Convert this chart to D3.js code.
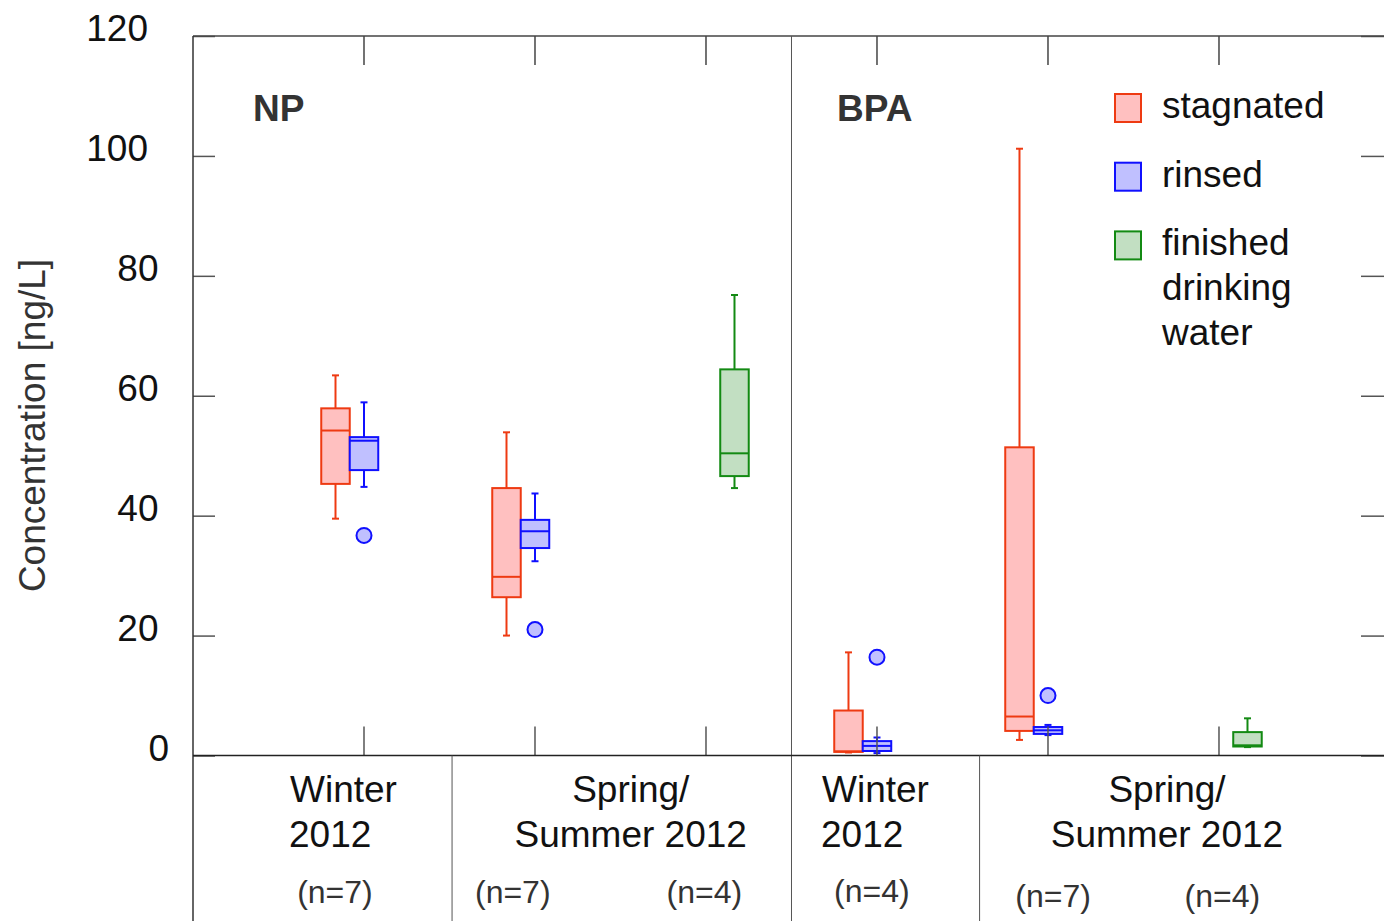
<!DOCTYPE html>
<html>
<head>
<meta charset="utf-8">
<script src="https://cdn.jsdelivr.net/npm/d3@7"></script>
<style>
  html, body { margin: 0; padding: 0; background: #fff; }
  svg { display: block; font-family: "Liberation Sans", Arial, Helvetica, sans-serif; }
</style>
</head>
<body>
<svg id="chart" width="1384" height="921"></svg>
<script>
// ---------- data ----------
const panels = ["NP", "BPA"];
const columns = ["NP Winter 2012", "NP Spring/Summer 2012", "NP Spring/Summer 2012 finished",
                 "BPA Winter 2012", "BPA Spring/Summer 2012", "BPA Spring/Summer 2012 finished"];
const seriesNames = ["stagnated", "rinsed", "finished drinking water"];
const yTicks = [0, 20, 40, 60, 80, 100, 120];

// one entry per box
const boxColumn = [0, 0, 1, 1, 2, 3, 3, 4, 4, 5];
const boxSeries = ["stagnated", "rinsed", "stagnated", "rinsed", "finished drinking water",
                   "stagnated", "rinsed", "stagnated", "rinsed", "finished drinking water"];
const whiskerLow  = [39.5, 44.8, 20.0, 32.4, 44.6, 0.5, 0.4, 2.6, 3.4, 1.4];
const quartile1   = [45.3, 47.6, 26.4, 34.6, 46.6, 0.6, 0.75, 4.1, 3.6, 1.5];
const medianVal   = [54.2, 52.5, 29.8, 37.4, 50.4, 0.7, 1.6, 6.5, 4.2, 1.7];
const quartile3   = [57.9, 53.1, 44.6, 39.3, 64.4, 7.5, 2.4, 51.4, 4.75, 3.9];
const whiskerHigh = [63.4, 58.9, 53.9, 43.7, 76.8, 17.2, 3.0, 101.2, 5.1, 6.2];

// outliers
const outlierColumn = [0, 1, 3, 4];
const outlierSeries = ["rinsed", "rinsed", "rinsed", "rinsed"];
const outlierValue  = [36.7, 21.0, 16.4, 10.0];

// category table under the axis
const seasonLabels = [["Winter", "2012"], ["Spring/", "Summer 2012"], ["Winter", "2012"], ["Spring/", "Summer 2012"]];
const nLabels = ["(n=7)", "(n=7)", "(n=4)", "(n=4)", "(n=7)", "(n=4)"];

// ---------- scales ----------
const svg = d3.select("#chart");
const plotLeft = 193, plotRight = 1384, plotTop = 36, axisY = 755.5, plotBottom = 921;

const y = d3.scaleLinear().domain([0, 120]).range([axisY, plotTop]);
const x = d3.scaleLinear().domain([-1, 5.965]).range([plotLeft, plotRight]);   // column index -> px
const slotW = x(1) - x(0);
const seriesOffset = d3.scaleOrdinal().domain(seriesNames).range([-1 / 6, 0, 1 / 6]);
const strokeColor = d3.scaleOrdinal().domain(seriesNames).range(["#ee3a12", "#1010ff", "#138a13"]);
const fillColor = d3.scaleOrdinal().domain(seriesNames).range(["#ffc0c0", "#c0c0ff", "#c2dfc2"]);
const boxW = slotW / 6;
const cx = (col, s) => x(col + seriesOffset(s));

const font = 37;

// ---------- boxes ----------
const boxes = boxColumn.map((c, i) => ({
  col: c, s: boxSeries[i], lo: whiskerLow[i], q1: quartile1[i], med: medianVal[i], q3: quartile3[i], hi: whiskerHigh[i]
}));

const gBox = svg.append("g");
boxes.forEach(b => {
  const g = gBox.append("g");
  const xc = cx(b.col, b.s);
  const col = strokeColor(b.s);
  g.append("line").attr("x1", xc).attr("x2", xc).attr("y1", y(b.hi)).attr("y2", y(b.q3))
    .attr("stroke", col).attr("stroke-width", 2);
  g.append("line").attr("x1", xc).attr("x2", xc).attr("y1", y(b.q1)).attr("y2", y(b.lo))
    .attr("stroke", col).attr("stroke-width", 2);
  [b.hi, b.lo].forEach(v => g.append("line")
    .attr("x1", xc - 3.5).attr("x2", xc + 3.5).attr("y1", y(v)).attr("y2", y(v))
    .attr("stroke", col).attr("stroke-width", 2));
  g.append("rect").attr("x", xc - boxW / 2).attr("width", boxW)
    .attr("y", y(b.q3)).attr("height", y(b.q1) - y(b.q3))
    .attr("fill", fillColor(b.s)).attr("stroke", col).attr("stroke-width", 2);
  g.append("line").attr("x1", xc - boxW / 2).attr("x2", xc + boxW / 2)
    .attr("y1", y(b.med)).attr("y2", y(b.med)).attr("stroke", col).attr("stroke-width", 2);
});

outlierValue.forEach((v, i) => {
  svg.append("circle").attr("cx", cx(outlierColumn[i], outlierSeries[i])).attr("cy", y(v)).attr("r", 7.5)
    .attr("fill", fillColor(outlierSeries[i])).attr("stroke", strokeColor(outlierSeries[i])).attr("stroke-width", 2);
});

// ---------- frame, ticks ----------
const colIdx = d3.range(columns.length);
svg.append("g").selectAll("line").data(colIdx).join("line")
  .attr("x1", d => x(d)).attr("x2", d => x(d)).attr("y1", plotTop).attr("y2", plotTop + 29)
  .attr("stroke", "#444").attr("stroke-width", 1.5);
svg.append("g").selectAll("line").data(colIdx).join("line")
  .attr("x1", d => x(d)).attr("x2", d => x(d)).attr("y1", axisY).attr("y2", axisY - 29)
  .attr("stroke", "#555").attr("stroke-width", 1.5);

const axL = svg.append("g").attr("transform", `translate(${plotLeft},0)`)
  .call(d3.axisLeft(y).tickValues(yTicks).tickSize(-22).tickFormat(""));
axL.select(".domain").remove();
axL.selectAll("line").attr("stroke", "#555").attr("stroke-width", 1.5);
const axR = svg.append("g").attr("transform", `translate(${plotRight},0)`)
  .call(d3.axisRight(y).tickValues(yTicks).tickSize(-23).tickFormat(""));
axR.select(".domain").remove();
axR.selectAll("line").attr("stroke", "#555").attr("stroke-width", 1.5);

svg.append("line").attr("x1", plotLeft).attr("x2", plotRight).attr("y1", plotTop).attr("y2", plotTop).attr("stroke", "#444").attr("stroke-width", 1.5);
svg.append("line").attr("x1", plotLeft).attr("x2", plotLeft).attr("y1", plotTop).attr("y2", plotBottom).attr("stroke", "#333").attr("stroke-width", 1.5);
svg.append("line").attr("x1", x(2.5)).attr("x2", x(2.5)).attr("y1", plotTop).attr("y2", plotBottom).attr("stroke", "#555").attr("stroke-width", 1);
svg.append("line").attr("x1", plotLeft).attr("x2", plotRight).attr("y1", axisY).attr("y2", axisY).attr("stroke", "#222").attr("stroke-width", 1.5);
[0.515, 3.6].forEach(d => svg.append("line").attr("x1", x(d)).attr("x2", x(d)).attr("y1", axisY).attr("y2", plotBottom)
  .attr("stroke", "#555").attr("stroke-width", 1));

// y tick labels
svg.append("g").selectAll("text").data(yTicks).join("text")
  .attr("x", d => 148 + (3 - String(d).length) * 10.5)
  .attr("y", d => y(d) + 5)
  .attr("text-anchor", "end").attr("font-size", font).attr("fill", "#111")
  .text(d => d);

// y axis title
svg.append("text").attr("transform", `translate(45,${(258 + 593) / 2}) rotate(-90)`)
  .attr("text-anchor", "middle").attr("font-size", font).attr("fill", "#333")
  .text("Concentration [ng/L]");

// panel titles
svg.append("text").attr("x", 253).attr("y", 121).attr("font-size", font).attr("font-weight", "bold").attr("fill", "#333").text(panels[0]);
svg.append("text").attr("x", 837).attr("y", 121).attr("font-size", font).attr("font-weight", "bold").attr("fill", "#333").text(panels[1]);

// season labels
const seasonPos = [
  { x: 290, anchor: "start" },
  { x: x(1.56), anchor: "middle" },
  { x: 822, anchor: "start" },
  { x: x(4.696), anchor: "middle" }
];
seasonLabels.forEach((lines, i) => {
  lines.forEach((t, j) => {
    svg.append("text").attr("x", seasonPos[i].x - (seasonPos[i].anchor === "start" && j === 1 ? 1 : 0))
      .attr("y", 802 + j * 45).attr("text-anchor", seasonPos[i].anchor)
      .attr("font-size", font).attr("fill", "#111").text(t);
  });
});

// n labels
const nX = [-0.17, 0.87, 1.99, 2.97, 4.03, 5.02];
const nY = [903, 903, 903, 902, 907, 907];
nLabels.forEach((t, i) => {
  svg.append("text").attr("x", x(nX[i])).attr("y", nY[i]).attr("text-anchor", "middle")
    .attr("font-size", 32).attr("fill", "#333").text(t);
});

// legend
const legLines = [["stagnated"], ["rinsed"], ["finished", "drinking", "water"]];
seriesNames.forEach((s, i) => {
  const ly = 94 + i * 68.7;
  svg.append("rect").attr("x", 1115).attr("y", ly).attr("width", 26).attr("height", 28)
    .attr("fill", fillColor(s)).attr("stroke", strokeColor(s)).attr("stroke-width", 2);
  legLines[i].forEach((t, j) => {
    svg.append("text").attr("x", 1162).attr("y", ly + 24 + j * 45).attr("font-size", font).attr("fill", "#111").text(t);
  });
});
</script>
</body>
</html>
